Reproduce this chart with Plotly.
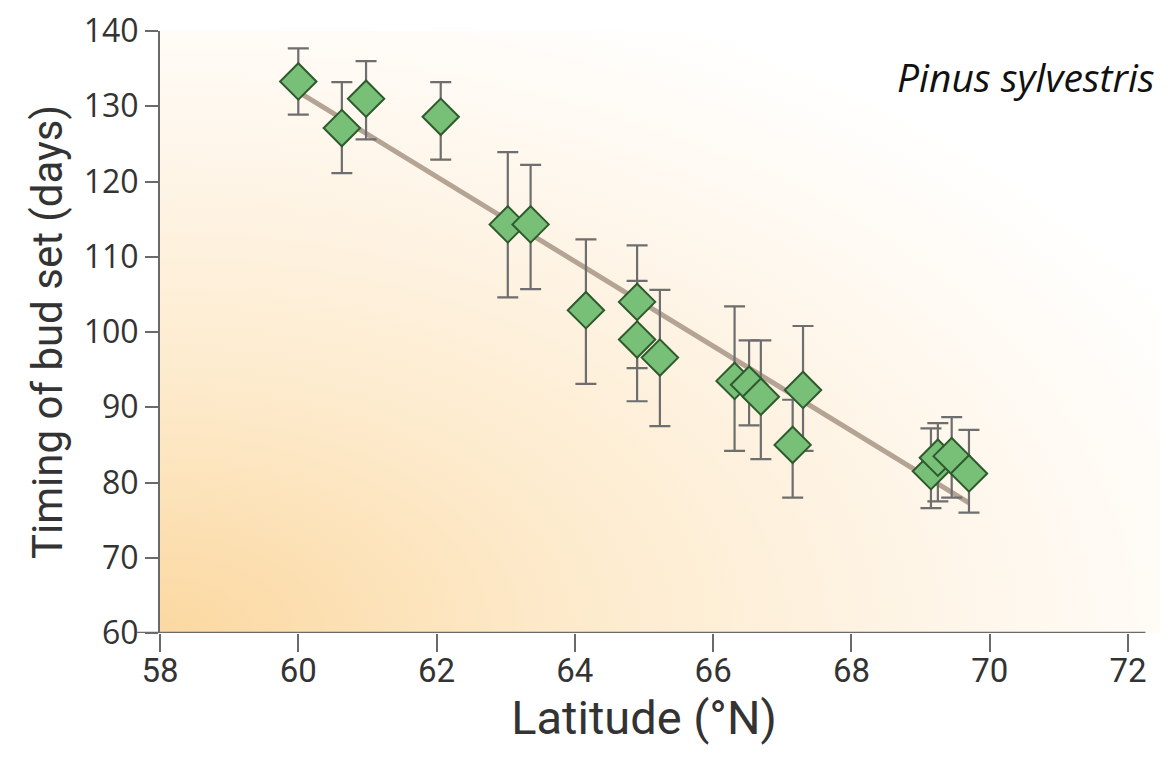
import base64
import plotly.graph_objects as go

# Data
latitude = [60.0, 60.63, 60.98, 62.06, 63.03, 63.36, 64.16, 64.9, 64.9, 65.23,
            66.31, 66.52, 66.69, 67.3, 67.15, 69.15, 69.25, 69.45, 69.7]
bud_set = [133.3, 127.1, 131.0, 128.6, 114.3, 114.3, 102.9, 104.0, 99.0, 96.6,
           93.5, 93.0, 91.4, 92.3, 85.0, 81.5, 83.3, 83.5, 81.2]
err_upper = [137.7, 133.2, 136.0, 133.2, 123.9, 122.2, 112.3, 111.5, 106.8, 105.6,
             103.4, 98.9, 98.9, 100.8, 91.0, 87.2, 87.9, 88.7, 87.0]
err_lower = [128.9, 121.1, 125.6, 122.9, 104.6, 105.7, 93.1, 95.2, 90.8, 87.5,
             84.2, 87.6, 83.1, 84.2, 78.0, 76.6, 77.5, 78.0, 76.0]
fit_lat = [60.0, 69.7]
fit_days = [131.9, 77.3]
x_ticks = [58, 60, 62, 64, 66, 68, 70, 72]
y_ticks = [60, 70, 80, 90, 100, 110, 120, 130, 140]

plus = [u - v for u, v in zip(err_upper, bud_set)]
minus = [v - l for v, l in zip(bud_set, err_lower)]

svg = (
    '<svg xmlns="http://www.w3.org/2000/svg" width="1000" height="600" '
    'viewBox="0 0 1000 600" preserveAspectRatio="none">'
    '<defs><radialGradient id="g" cx="0" cy="1" r="1.15" gradientUnits="objectBoundingBox">'
    '<stop offset="0" stop-color="#FBD8A0"/>'
    '<stop offset="0.35" stop-color="#FDEACB"/>'
    '<stop offset="0.7" stop-color="#FEF6EA"/>'
    '<stop offset="1" stop-color="#FFFFFF"/>'
    '</radialGradient></defs>'
    '<rect x="0" y="0" width="1000" height="600" fill="url(#g)"/></svg>'
)
svg_uri = "data:image/svg+xml;base64," + base64.b64encode(svg.encode()).decode()

fig = go.Figure()
fig.add_trace(go.Scatter(
    x=fit_lat, y=fit_days, mode="lines",
    line=dict(color="#B5A393", width=5), hoverinfo="skip", showlegend=False,
))
fig.add_trace(go.Scatter(
    x=latitude, y=bud_set, mode="markers",
    marker=dict(symbol="diamond", size=28, color="#78BF78",
                line=dict(color="#2E5A2E", width=2)),
    error_y=dict(type="data", symmetric=False, array=plus, arrayminus=minus,
                 color="#6E6E6E", thickness=2.2, width=10.5),
    showlegend=False,
))

fig.add_shape(type="line", xref="paper", yref="y", x0=-0.024, x1=1.018, y0=60, y1=60,
              line=dict(color="#6A6A6A", width=2.5), layer="above")

fig.add_annotation(text="<i>Pinus sylvestris</i>", xref="paper", yref="paper",
                   x=1.030, y=0.925, xanchor="right", yanchor="middle", showarrow=False,
                   font=dict(family="Open Sans", size=39, color="#111111"))

fig.update_layout(
    width=1160, height=752,
    margin=dict(l=152, r=40, t=23, b=127),
    paper_bgcolor="white", plot_bgcolor="rgba(0,0,0,0)",
    images=[dict(source=svg_uri, xref="paper", yref="paper", x=0, y=1,
                 sizex=1.04, sizey=1, sizing="stretch", layer="below",
                 xanchor="left", yanchor="top")],
    xaxis=dict(range=[58, 72], tickvals=x_ticks, ticktext=[str(t) for t in x_ticks],
               automargin=False,
               showgrid=False, zeroline=False, showline=False,
               ticks="outside", ticklen=18, tickwidth=2, tickcolor="#6A6A6A",
               ticklabelstandoff=-10, ticklabeloverflow="allow",
               tickfont=dict(family="Roboto", size=33, color="#333333"),
               title=dict(text="Latitude (°N)", standoff=6,
                          font=dict(family="Roboto", size=47, color="#333333"))),
    yaxis=dict(range=[60, 140], tickvals=y_ticks, ticktext=[str(t) for t in y_ticks],
               automargin=False,
               showgrid=False, zeroline=False, showline=True, linecolor="#6A6A6A", linewidth=2,
               ticks="outside", ticklen=13, tickwidth=2, tickcolor="#6A6A6A",
               ticklabelstandoff=0, ticklabeloverflow="allow",
               tickfont=dict(family="Open Sans", size=32, color="#333333"),
               title=dict(text="Timing of bud set (days)", standoff=8,
                          font=dict(family="Roboto", size=42, color="#333333"))),
)

fig.write_html("out.html")
